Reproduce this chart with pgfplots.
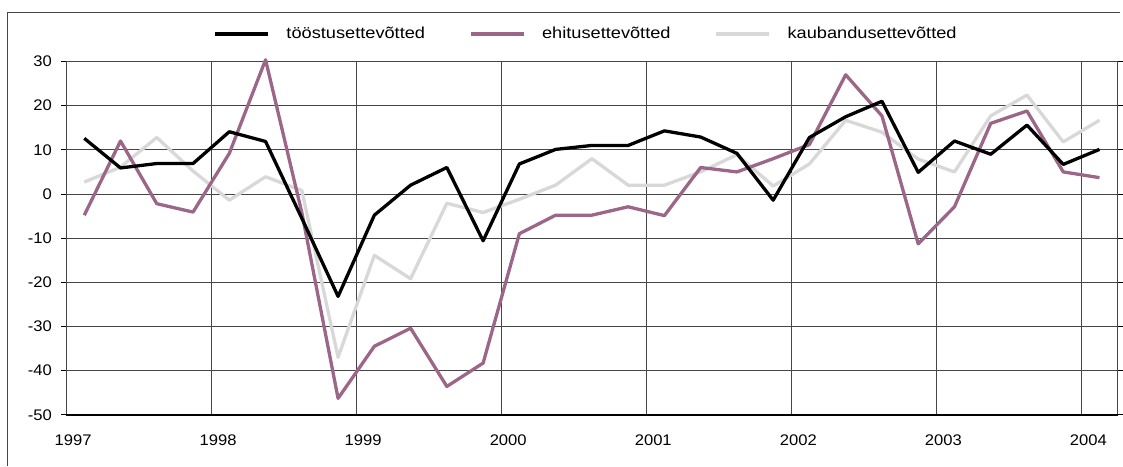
\documentclass[border=0pt]{standalone}
\usepackage{pgfplots}
\pgfplotsset{compat=1.18}
\usepackage{fontspec}
\setmainfont{Liberation Sans}
\newfontfamily\tickfont[FakeStretch=1.08]{Liberation Sans}
\newfontfamily\legfont[FakeStretch=1.14]{Liberation Sans}

\definecolor{ehitus}{RGB}{156,102,137}
\definecolor{kaubandus}{RGB}{216,216,216}
\definecolor{gridc}{RGB}{70,70,70}

\begin{document}
\begin{tikzpicture}
\fontsize{15.4}{18}\selectfont
\begin{axis}[
    name=ax,
    scale only axis,
    width=1054pt, height=354pt,
    xmin=0, xmax=29,
    ymin=-50, ymax=30,
    xtick={0,4,...,28},
    xticklabels={1997,1998,1999,2000,2001,2002,2003,2004},
    xtick style={draw=none},
    xticklabel style={xshift=7pt, yshift=-10pt},
    ytick={-50,-40,...,30},
    ytick style={black, line width=0.8pt},
    tick align=outside,
    major tick length=5pt,
    yticklabel style={xshift=-4pt},
    /pgf/number format/assume math mode=true,
    ticklabel style={font=\tickfont\fontsize{15.4}{18}\selectfont},
    xmajorgrids, ymajorgrids,
    grid style={gridc, line width=0.9pt},
    axis line style={gridc, line width=0.9pt},
    clip=false,
    legend columns=-1,
    legend style={at={(0.5015,1)}, anchor=center, yshift=27.7pt,
        draw=none, fill=none, font=\legfont\fontsize{16}{19}\selectfont,
        /tikz/every even column/.style={column sep=27pt},
        nodes={inner xsep=17pt}},
    legend image code/.code={\draw[#1] (0pt,0pt) -- (53pt,0pt);},
    every axis plot/.append style={line width=3.3pt, line join=round},
]
\addlegendimage{black, line width=3.3pt}
\addlegendentry{tööstusettevõtted}
\addlegendimage{ehitus, line width=3.3pt}
\addlegendentry{ehitusettevõtted}
\addlegendimage{kaubandus, line width=3.3pt}
\addlegendentry{kaubandusettevõtted}

% kaubandusettevõtted
\addplot[kaubandus, forget plot] coordinates {
(0.5,2.7) (1.5,6.1) (2.5,12.8) (3.5,5.2) (4.5,-1.4) (5.5,3.9) (6.5,0.8) (7.5,-37)
(8.5,-13.9) (9.5,-19.2) (10.5,-2.1) (11.5,-4.2) (12.5,-1.2) (13.5,2) (14.5,8) (15.5,2)
(16.5,2) (17.5,5) (18.5,8.9) (19.5,1.8) (20.5,6.8) (21.5,16.7) (22.5,14) (23.5,7.9)
(24.5,5) (25.5,17.7) (26.5,22.4) (27.5,11.8) (28.5,16.7)
};
% ehitusettevõtted
\addplot[ehitus, forget plot] coordinates {
(0.5,-4.8) (1.5,12) (2.5,-2.2) (3.5,-4.1) (4.5,9.2) (5.5,30.4) (6.5,-4.2) (7.5,-46.3)
(8.5,-34.5) (9.5,-30.4) (10.5,-43.6) (11.5,-38.3) (12.5,-9) (13.5,-4.8) (14.5,-4.8) (15.5,-2.9)
(16.5,-4.9) (17.5,6) (18.5,5) (19.5,8) (20.5,11.2) (21.5,27) (22.5,17.7) (23.5,-11.3)
(24.5,-2.9) (25.5,16) (26.5,18.8) (27.5,5) (28.5,3.7)
};
% tööstusettevõtted
\addplot[black, forget plot] coordinates {
(0.5,12.6) (1.5,5.9) (2.5,6.9) (3.5,6.9) (4.5,14.1) (5.5,11.9) (6.5,-5.5) (7.5,-23.2)
(8.5,-4.8) (9.5,2) (10.5,6) (11.5,-10.6) (12.5,6.8) (13.5,10.1) (14.5,11) (15.5,11)
(16.5,14.3) (17.5,12.9) (18.5,9.2) (19.5,-1.4) (20.5,12.8) (21.5,17.5) (22.5,21) (23.5,4.9)
(24.5,12) (25.5,9) (26.5,15.6) (27.5,6.7) (28.5,10.1)
};
\draw[black, line width=2pt] (rel axis cs:0,0) -- (rel axis cs:1,0);
\end{axis}
% frame round the chart and page size
\draw[gridc, line width=0.9pt] ([xshift=-59.3pt,yshift=-51.3pt]ax.south west)
    -- ([xshift=-59.3pt,yshift=49.7pt]ax.north west)
    -- ([xshift=2.5pt,yshift=49.7pt]ax.north east);
\path ([xshift=-66.3pt,yshift=-51.3pt]ax.south west) rectangle ([xshift=2.5pt,yshift=61.7pt]ax.north east);
\end{tikzpicture}
\end{document}
